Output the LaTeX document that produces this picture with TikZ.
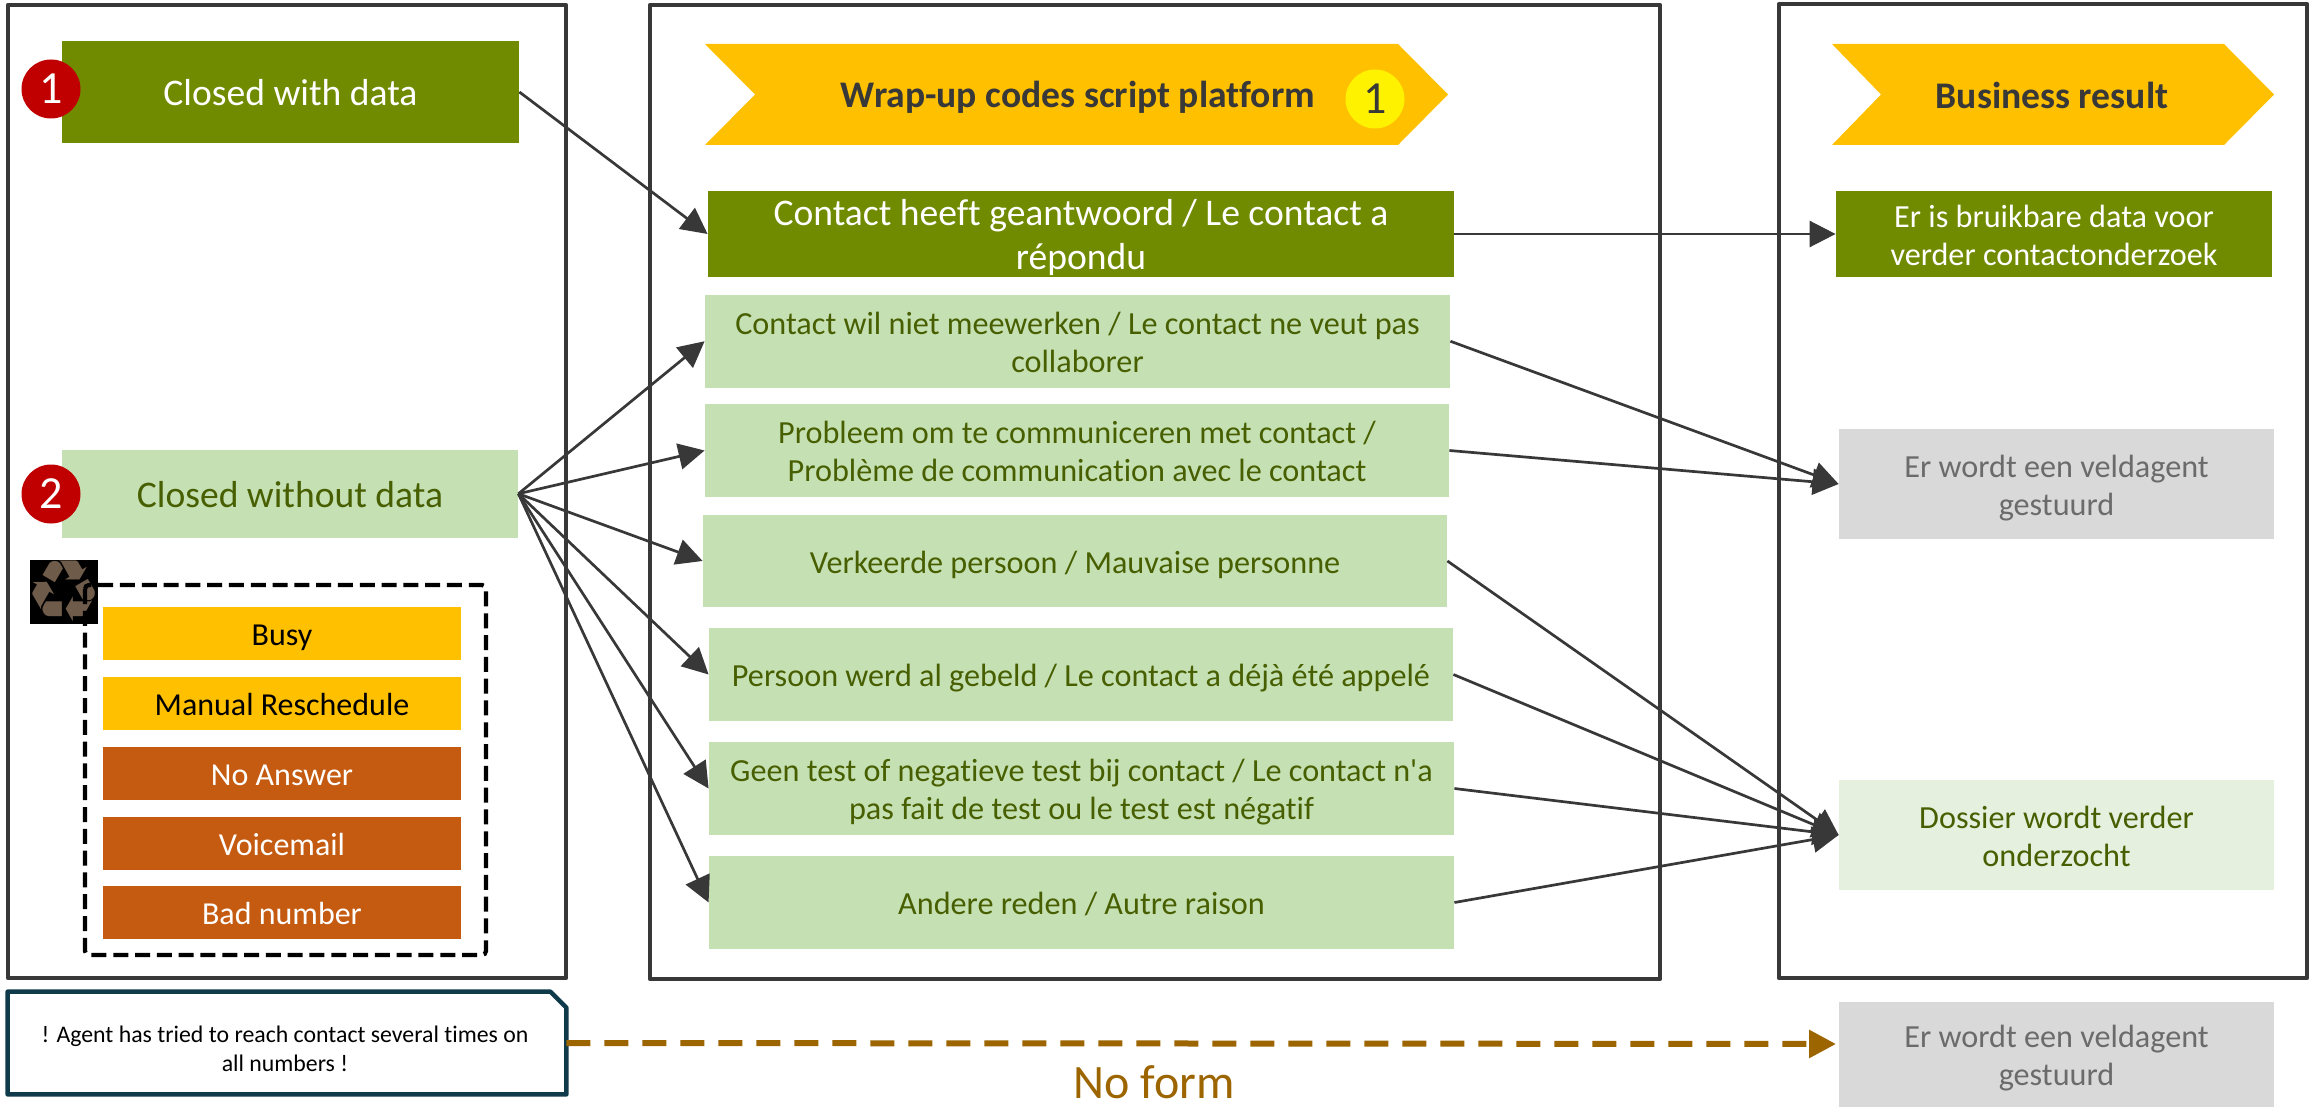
\documentclass[tikz,border=0pt]{standalone}
\usepackage{fontspec}
\setmainfont{Carlito}
\newfontfamily\carl{Carlito}[Ligatures=NoCommon]
\newfontfamily\symfont{DejaVu Sans}
\usetikzlibrary{arrows.meta,calc}
\definecolor{olive}{HTML}{708B00}
\definecolor{lgreen}{HTML}{C5E0B3}
\definecolor{pgreen}{HTML}{E5F0DE}
\definecolor{dgreen}{HTML}{475F00}
\definecolor{amber}{HTML}{FFC000}
\definecolor{burnt}{HTML}{C55A11}
\definecolor{grayfill}{HTML}{D9D9D9}
\definecolor{graytext}{HTML}{6B6B6B}
\definecolor{frameclr}{HTML}{383838}
\definecolor{noteclr}{HTML}{0F3A4A}
\definecolor{brownarrow}{HTML}{9C6500}
\definecolor{redcirc}{HTML}{C00000}
\definecolor{iconbrown}{HTML}{6E5B4A}
\newcommand{\fs}[2]{\carl\fontsize{#1pt}{#2pt}\selectfont}
\newcommand{\bx}[7]{%
  \pgfmathsetmacro\bw{(#5-#3)*0.5}\pgfmathsetmacro\bh{(#6-#4)*0.5}%
  \pgfmathsetmacro\bcx{(#3+#5)/2}\pgfmathsetmacro\bcy{(#4+#6)/2}%
  \node[#2,minimum width=\bw pt,minimum height=\bh pt] (#1) at (\bcx,\bcy)
    {\raisebox{-2.4pt}[\dimexpr\height-2pt][\dimexpr\depth-2pt]{\begin{tabular}{@{}c@{}}#7\end{tabular}}};}
\tikzset{
  base/.style={rectangle,inner sep=0pt},
  oliveL/.style={base,fill=olive,text=white,font=\fs{18.8}{22}},
  oliveS/.style={base,fill=olive,text=white,font=\fs{16.1}{19}},
  lightbox/.style={base,fill=lgreen,text=dgreen,font=\fs{16.1}{19}},
  lightL/.style={base,fill=lgreen,text=dgreen,font=\fs{18.8}{22}},
  palebox/.style={base,fill=pgreen,text=dgreen,font=\fs{16.1}{19}},
  graybox/.style={base,fill=grayfill,text=graytext,font=\fs{16.1}{19}},
  amberbox/.style={base,fill=amber,text=black,font=\fs{16}{19}},
  burntbox/.style={base,fill=burnt,text=white,font=\fs{16}{19}},
  frame/.style={draw=frameclr,line width=2.2pt,line join=round},
  badge/.style={circle,inner sep=0pt,minimum size=29.5pt,text=white,fill=redcirc,font=\fs{23}{23}},
  conn/.style={draw=frameclr,line width=1.35pt,-{Triangle[length=13pt,width=13pt]}},
  head/.style={text=frameclr,inner sep=0pt,font=\fs{18.8}{22}\bfseries},
}
\begin{document}
\begin{tikzpicture}[x=0.5pt,y=-0.5pt]
\useasboundingbox (0,0) rectangle (2312,1107);
% frames
\bx{leftframe}{frame}{8}{5}{566}{978}{}
\bx{midframe}{frame}{650}{5}{1660}{979}{}
\bx{rightframe}{frame}{1779}{4}{2307}{978}{}
% left column
\bx{cwd}{oliveL}{62}{41}{519}{143}{Closed with data}
\bx{cwod}{lightL}{62}{450}{518}{537.5}{Closed without data}
\node[badge] (b1) at (51,89) {1};
\node[badge] (b2) at (51,494) {2};
% recycle icon
\node[base,fill=black,minimum width=34pt,minimum height=32pt,text=iconbrown] (icon) at (64,592)
  {\makebox[0pt]{\raisebox{-14.6pt}[0pt][0pt]{\symfont\fontsize{43pt}{43pt}\selectfont ♻}}};
\draw[line width=2.1pt,dash pattern=on 7.5pt off 3.4pt,rounded corners=2pt] (85,585) rectangle (486,955);
\bx{busy}{amberbox}{103}{607}{461}{660}{Busy}
\bx{manual}{amberbox}{103}{677}{461}{730}{Manual Reschedule}
\bx{noans}{burntbox}{103}{747}{461}{800}{No Answer}
\bx{voice}{burntbox}{103}{817}{461}{870}{Voicemail}
\bx{bad}{burntbox}{103}{886}{461}{939}{Bad number}
% note
\node[rectangle,inner sep=0pt,minimum width=279pt,minimum height=51pt] (note) at (287,1043) {};
\draw[draw=noteclr,line width=2.2pt,line join=round] (note.north west) -- ($(note.north east)+(-16,0)$) -- ($(note.north east)+(0,16)$) -- (note.south east) -- (note.south west) -- cycle;
\node[inner sep=0pt,align=center,text=black,font=\fs{11.9}{14.5}] (notetext) at (285,1048.5) {! Agent has tried to reach contact several times on\\all numbers !};
% middle column
\fill[amber] (705,44) -- (1398,44) -- (1448,94.5) -- (1398,145) -- (705,145) -- (755,94.5) -- cycle;
\node[head] (h1) at (1078,97) {Wrap-up codes script platform};
\node[circle,fill=yellow,inner sep=0pt,minimum size=29.5pt,text=frameclr,font=\fs{23}{23}] (b3) at (1375,99) {1};
\bx{m1}{oliveL}{708}{191}{1454}{277}{Contact heeft geantwoord / Le contact a\\répondu}
\bx{m2}{lightbox}{705}{295}{1450}{387.5}{Contact wil niet meewerken / Le contact ne veut pas\\collaborer}
\bx{m3}{lightbox}{705}{404}{1449}{497}{Probleem om te communiceren met contact /\\Problème de communication avec le contact}
\bx{m4}{lightbox}{703}{515}{1447}{607}{Verkeerde persoon / Mauvaise personne}
\bx{m5}{lightbox}{709}{628}{1453}{721}{Persoon werd al gebeld / Le contact a déjà été appelé}
\bx{m6}{lightbox}{709}{742}{1454}{835}{Geen test of negatieve test bij contact / Le contact n'a\\pas fait de test ou le test est négatif}
\bx{m7}{lightbox}{709}{856}{1454}{949}{Andere reden / Autre raison}
% right column
\fill[amber] (1832,44) -- (2224,44) -- (2274,94.5) -- (2224,145) -- (1832,145) -- (1881,94.5) -- cycle;
\node[head] (h2) at (2052,95) {Business result};
\bx{r1}{oliveS}{1836}{191}{2272}{277}{Er is bruikbare data voor\\verder contactonderzoek}
\bx{r2}{graybox}{1839}{429}{2274}{539}{Er wordt een veldagent\\gestuurd}
\bx{r3}{palebox}{1839}{780}{2274}{890}{Dossier wordt verder\\onderzocht}
\bx{r4}{graybox}{1839}{1002}{2274}{1107}{Er wordt een veldagent\\gestuurd}
% connectors
\draw[conn] (cwd.east) -- (m1.west);
\foreach \t in {m2,m3,m4,m5,m6,m7} \draw[conn] (cwod.east) -- (\t.west);
\draw[conn] (m1.east) -- (r1.west);
\draw[conn] (m2.east) -- (r2.west);
\draw[conn] (m3.east) -- (r2.west);
\foreach \s in {m4,m5,m6,m7} \draw[conn] (\s.east) -- (r3.west);
\coordinate (dashend) at (1836,1044);
\draw[draw=brownarrow,line width=3pt,dash pattern=on 12pt off 7pt,-{Triangle[length=13.5pt,width=13.5pt,fill=brownarrow]}] (note.east) -- (dashend);
\node[text=brownarrow,inner sep=0pt,font=\fs{24}{24}] (noform) at (1154,1082) {No form};
\end{tikzpicture}
\end{document}
